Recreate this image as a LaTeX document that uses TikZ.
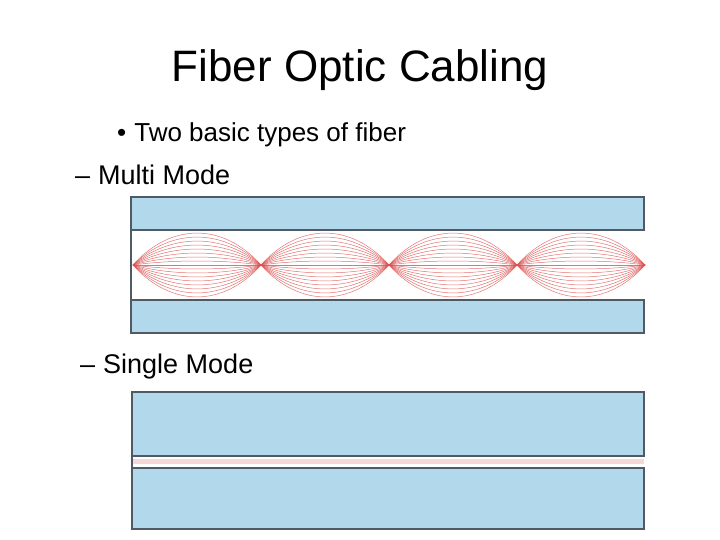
\documentclass[tikz,border=0pt]{standalone}
\usepackage{fontspec}
\setmainfont{Liberation Sans}
\definecolor{clad}{RGB}{178,216,236}
\definecolor{edge}{RGB}{80,90,100}
\definecolor{ray}{RGB}{220,80,80}
\definecolor{pinkcore}{RGB}{245,215,215}
\begin{document}
\begin{tikzpicture}[x=1pt,y=-1pt,
  cladbox/.style={fill=clad,draw=edge,line width=1.5pt},
  raystyle/.style={draw=ray,line width=0.5pt,opacity=0.8},
  txt/.style={inner sep=0pt,anchor=base west}]
\useasboundingbox (0,0) rectangle (720,540);
\node[inner sep=0pt,font=\fontsize{44}{48}\selectfont] (title) at (360,70) {Fiber Optic Cabling};
\node[txt,font=\fontsize{26}{30}\selectfont] (b1) at (117,142) {•\hspace{8pt}Two basic types of fiber};
\node[txt,font=\fontsize{27}{30}\selectfont] (b2) at (75,185) {–\hspace{8pt}Multi Mode};
\node[txt,font=\fontsize{27}{30}\selectfont] (b3) at (80,373) {–\hspace{8pt}Single Mode};
% multimode
\draw[cladbox] (131,197) rectangle (644,230);
\draw[cladbox] (131,300) rectangle (644,333);
\draw[draw=edge,line width=1.5pt] (131,230) -- (131,300);
\foreach \xa in {133,261,389,517}{
  \foreach \a in {4,8,...,32}{
    \draw[raystyle] (\xa,265) .. controls ({\xa+38},{265-1.33*\a}) and ({\xa+90},{265-1.33*\a}) .. ({\xa+128},265);
    \draw[raystyle] (\xa,265) .. controls ({\xa+38},{265+1.33*\a}) and ({\xa+90},{265+1.33*\a}) .. ({\xa+128},265);
  }
  \draw[raystyle] (\xa,265) -- ({\xa+128},265);
}
% single mode
\draw[cladbox] (132,392) rectangle (644,456);
\draw[cladbox] (132,468) rectangle (644,529);
\fill[pinkcore] (133,459) rectangle (644,464);
\draw[draw=edge,line width=1.5pt] (132,456) -- (132,468);
\end{tikzpicture}
\end{document}
